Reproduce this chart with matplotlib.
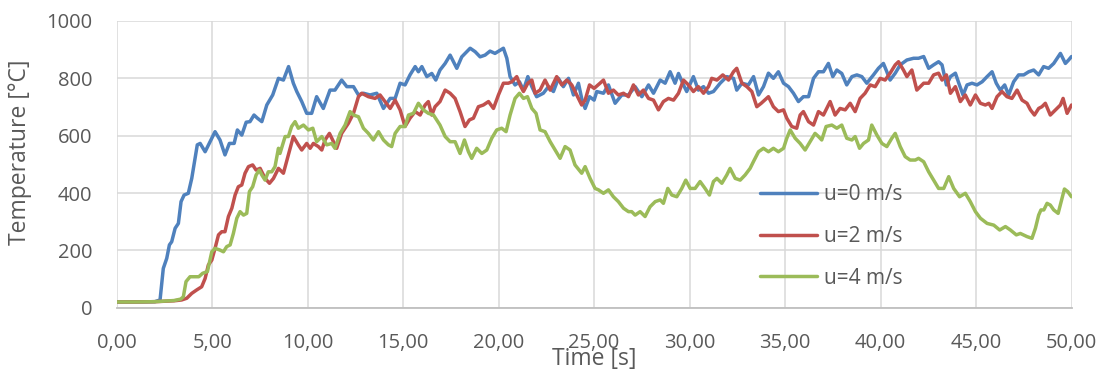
import matplotlib
matplotlib.use("Agg")
import matplotlib.pyplot as plt
from matplotlib.ticker import FixedLocator, FuncFormatter

# Temperature records for three wind speeds: time [s] and temperature [°C]
t_u0 = [0.0, 1.0, 2.0, 2.27, 2.44, 2.62, 2.76, 2.88, 3.06, 3.23, 3.37, 3.53, 3.75, 3.93,
        4.10, 4.22, 4.37, 4.63, 4.89, 5.15, 5.41, 5.67, 5.90, 6.15, 6.32, 6.55, 6.78,
        6.98, 7.19, 7.37, 7.60, 7.86, 8.17, 8.47, 8.73, 9.00, 9.25, 9.43, 9.69, 9.95,
        10.21, 10.47, 10.82, 11.17, 11.43, 11.78, 12.05, 12.40, 12.66, 12.92, 13.27,
        13.62, 13.97, 14.32, 14.58, 14.84, 15.10, 15.36, 15.63, 15.80, 15.98, 16.24,
        16.50, 16.71, 16.93, 17.20, 17.46, 17.81, 18.07, 18.51, 18.77, 19.03, 19.29,
        19.55, 19.81, 20.25, 20.43, 20.60, 20.86, 21.09, 21.30, 21.53, 21.74, 21.99,
        22.34, 22.61, 22.87, 23.13, 23.39, 23.66, 23.92, 24.18, 24.35, 24.53, 24.76,
        25.00, 25.14, 25.49, 25.75, 26.10, 26.45, 26.80, 27.15, 27.50, 27.85, 28.11,
        28.46, 28.72, 28.98, 29.24, 29.42, 29.68, 29.85, 30.20, 30.46, 30.73, 30.99,
        31.25, 31.60, 31.95, 32.30, 32.47, 32.74, 33.08, 33.35, 33.61, 33.87, 34.13,
        34.39, 34.65, 34.92, 35.18, 35.44, 35.70, 35.96, 36.23, 36.49, 36.75, 37.01,
        37.27, 37.50, 37.71, 37.97, 38.23, 38.50, 38.76, 39.02, 39.28, 39.63, 39.89,
        40.15, 40.33, 40.50, 40.77, 41.03, 41.38, 41.73, 41.99, 42.26, 42.52, 42.78,
        43.04, 43.22, 43.45, 43.66, 43.92, 44.10, 44.32, 44.53, 44.79, 45.05, 45.32,
        45.58, 45.84, 46.06, 46.27, 46.50, 46.71, 46.97, 47.23, 47.50, 47.76, 48.02,
        48.28, 48.54, 48.80, 49.07, 49.42, 49.68, 49.85, 50.0]
T_u0 = [20, 20, 21, 27, 137, 172, 219, 230, 277, 294, 370, 393, 399, 451,
        521, 568, 573, 544, 579, 614, 585, 533, 573, 573, 620, 602, 647,
        649, 672, 661, 649, 707, 742, 800, 794, 841, 783, 754, 719, 678,
        678, 736, 695, 759, 759, 794, 771, 771, 742, 748, 742,
        748, 695, 730, 730, 783, 777, 812, 841, 823, 841, 806,
        817, 794, 829, 852, 881, 835, 875, 905, 893, 875, 881,
        895, 887, 905, 870, 806, 777, 788, 759, 806, 771, 736,
        748, 771, 754, 800, 771, 800, 742, 783, 730, 695, 736,
        724, 754, 748, 777, 713, 742, 742, 771, 736, 777, 748,
        794, 783, 823, 783, 817, 777, 754, 806, 759, 771, 748,
        754, 783, 806, 800, 759, 783, 777, 806, 742, 771, 818,
        800, 823, 783, 771, 748, 719, 736, 736, 800, 823, 823,
        852, 806, 829, 817, 777, 806, 812, 806, 783, 812, 835,
        852, 823, 794, 818, 847, 864, 870, 870, 876, 835, 847,
        858, 847, 777, 806, 818, 783, 742, 777, 783, 777, 788,
        806, 823, 783, 759, 777, 742, 788, 812, 812, 823, 829,
        812, 841, 835, 852, 887, 852, 864, 876]

t_u2 = [0.0, 1.0, 2.0, 3.0, 3.4, 3.67, 3.93, 4.19, 4.45, 4.63, 4.80, 4.98, 5.15, 5.33,
        5.50, 5.67, 5.85, 6.03, 6.20, 6.37, 6.55, 6.72, 6.90, 7.12, 7.30, 7.51, 7.77,
        8.00, 8.21, 8.47, 8.73, 8.99, 9.25, 9.51, 9.69, 9.95, 10.13, 10.30, 10.56,
        10.74, 10.91, 11.14, 11.35, 11.52, 11.78, 12.13, 12.40, 12.66, 12.83, 13.18,
        13.53, 13.79, 14.05, 14.32, 14.58, 14.84, 15.10, 15.36, 15.63, 15.89, 16.15,
        16.32, 16.50, 16.67, 16.93, 17.20, 17.46, 17.72, 17.98, 18.24, 18.47, 18.68,
        18.94, 19.20, 19.47, 19.73, 19.99, 20.25, 20.51, 20.69, 20.95, 21.12, 21.30,
        21.53, 21.74, 21.91, 22.17, 22.43, 22.70, 23.04, 23.31, 23.57, 23.83, 24.09,
        24.35, 24.53, 24.76, 25.00, 25.31, 25.49, 25.75, 26.01, 26.27, 26.54, 26.80,
        27.06, 27.32, 27.58, 27.85, 28.11, 28.37, 28.63, 28.89, 29.16, 29.42, 29.68,
        29.94, 30.20, 30.46, 30.73, 30.99, 31.16, 31.43, 31.74, 32.04, 32.30, 32.47,
        32.74, 33.00, 33.26, 33.52, 33.75, 34.13, 34.39, 34.65, 34.92, 35.09, 35.35,
        35.61, 35.79, 35.96, 36.23, 36.49, 36.75, 37.01, 37.36, 37.62, 37.88, 38.15,
        38.41, 38.67, 38.93, 39.19, 39.46, 39.72, 39.98, 40.24, 40.50, 40.77, 40.94,
        41.20, 41.38, 41.64, 41.90, 42.26, 42.52, 42.78, 43.04, 43.22, 43.45, 43.66,
        43.92, 44.18, 44.44, 44.70, 44.97, 45.23, 45.49, 45.67, 45.84, 46.10, 46.36,
        46.62, 46.88, 47.15, 47.41, 47.67, 47.85, 48.06, 48.28, 48.45, 48.63, 48.89,
        49.16, 49.42, 49.56, 49.77, 50.0]
T_u2 = [20, 20, 21, 24, 27, 33, 50, 62, 73, 102, 149, 166, 207, 254,
        265, 265, 318, 347, 393, 422, 428, 469, 492, 498, 480, 486, 451,
        434, 451, 486, 469, 533, 597, 568, 550, 573, 556, 573, 562,
        550, 585, 608, 579, 556, 608, 643, 678, 736, 748, 736,
        730, 742, 719, 695, 724, 690, 632, 661, 684, 672, 707,
        719, 672, 701, 719, 759, 748, 730, 684, 632, 655, 661,
        701, 707, 719, 695, 742, 783, 783, 788, 806, 777, 754,
        783, 794, 748, 759, 794, 759, 806, 777, 794, 777, 742,
        707, 724, 777, 765, 783, 794, 748, 759, 742, 748, 736,
        777, 742, 759, 730, 724, 690, 719, 730, 724, 748, 794,
        777, 754, 771, 748, 771, 800, 794, 812, 794, 823, 835,
        783, 771, 754, 701, 713, 736, 701, 684, 690, 661, 632,
        626, 672, 684, 649, 637, 684, 672, 719, 672, 695, 690,
        713, 684, 730, 748, 777, 771, 800, 794, 818, 847, 858,
        829, 806, 829, 759, 783, 783, 812, 818, 794, 812, 748,
        771, 719, 742, 707, 742, 713, 707, 713, 695, 736, 754,
        736, 730, 759, 724, 713, 690, 672, 695, 701, 713, 672,
        690, 707, 730, 678, 707]

t_u4 = [0.0, 1.0, 2.0, 3.0, 3.35, 3.49, 3.63, 3.84, 4.10, 4.30, 4.50, 4.75, 4.98, 5.15,
        5.41, 5.59, 5.76, 5.94, 6.11, 6.29, 6.46, 6.64, 6.81, 6.95, 7.12, 7.30, 7.47,
        7.60, 7.77, 7.94, 8.12, 8.29, 8.47, 8.55, 8.82, 8.99, 9.16, 9.34, 9.51, 9.78,
        10.04, 10.27, 10.47, 10.74, 11.00, 11.26, 11.43, 11.70, 11.96, 12.22, 12.40,
        12.66, 12.92, 13.18, 13.44, 13.71, 13.97, 14.23, 14.40, 14.58, 14.84, 15.10,
        15.28, 15.54, 15.80, 16.06, 16.32, 16.59, 16.93, 17.20, 17.46, 17.72, 17.98,
        18.21, 18.42, 18.59, 18.85, 19.12, 19.38, 19.64, 19.90, 20.16, 20.39, 20.60,
        20.86, 21.09, 21.30, 21.51, 21.74, 21.96, 22.17, 22.43, 22.70, 22.96, 23.22,
        23.48, 23.74, 24.00, 24.35, 24.53, 24.79, 25.05, 25.23, 25.49, 25.75, 26.01,
        26.27, 26.54, 26.80, 26.97, 27.15, 27.41, 27.67, 27.93, 28.20, 28.46, 28.63,
        28.86, 29.07, 29.33, 29.59, 29.80, 30.03, 30.29, 30.55, 30.81, 31.04, 31.25,
        31.43, 31.69, 31.95, 32.12, 32.39, 32.65, 32.91, 33.17, 33.34, 33.61, 33.87,
        34.13, 34.39, 34.65, 34.92, 35.09, 35.27, 35.53, 35.79, 36.05, 36.31, 36.57,
        36.75, 36.92, 37.15, 37.45, 37.71, 37.97, 38.23, 38.50, 38.67, 38.90, 39.11,
        39.37, 39.54, 39.81, 40.07, 40.33, 40.59, 40.77, 41.03, 41.29, 41.55, 41.82,
        41.99, 42.26, 42.52, 42.78, 43.04, 43.31, 43.57, 43.83, 44.14, 44.44, 44.70,
        44.97, 45.23, 45.58, 45.93, 46.24, 46.54, 46.80, 47.11, 47.32, 47.67, 47.93,
        48.11, 48.28, 48.40, 48.55, 48.72, 48.89, 49.07, 49.30, 49.46, 49.63, 49.80,
        50.0]
T_u4 = [20, 20, 21, 25, 30, 38, 91, 108, 108, 108, 120, 126, 195, 207,
        201, 195, 213, 219, 259, 312, 335, 323, 329, 405, 422, 463, 480,
        463, 445, 474, 474, 492, 556, 538, 597, 597, 632, 649, 626, 637,
        620, 626, 579, 597, 568, 573, 556, 608, 637, 684, 672,
        666, 626, 608, 585, 614, 585, 568, 562, 608, 632, 632,
        672, 678, 713, 690, 678, 672, 637, 597, 579, 579, 538,
        585, 544, 521, 556, 538, 550, 591, 620, 626, 614, 672,
        730, 748, 730, 736, 695, 678, 620, 614, 579, 550, 521,
        562, 550, 498, 469, 492, 451, 416, 411, 399, 411, 387,
        370, 347, 335, 335, 323, 335, 318, 352, 370, 376, 364,
        416, 393, 387, 416, 445, 416, 416, 440, 416, 393, 440,
        451, 434, 463, 486, 451, 445, 463, 486, 509, 544, 556,
        544, 556, 544, 556, 591, 620, 591, 573, 550, 579, 608,
        597, 585, 632, 637, 626, 637, 591, 585, 597, 556, 573,
        585, 637, 602, 573, 562, 591, 608, 562, 527, 515, 515,
        521, 509, 474, 445, 416, 416, 457, 416, 387, 399, 370,
        335, 312, 294, 288, 271, 283, 271, 254, 259, 248, 242,
        277, 323, 341, 341, 364, 358, 341, 329, 370, 414, 405,
        387]

x_ticks = [0, 5, 10, 15, 20, 25, 30, 35, 40, 45, 50]
y_ticks = [0, 200, 400, 600, 800, 1000]
series_labels = ["u=0 m/s", "u=2 m/s", "u=4 m/s"]
series_colors = ["#4F81BD", "#C0504D", "#9BBB59"]

plt.rcParams["font.family"] = ["Open Sans", "DejaVu Sans"]
text_color = "#595959"
grid_color = "#D9D9D9"

fig = plt.figure(figsize=(11.07, 3.70), dpi=100)
W, H = 1107, 370
x0, x1 = 116.7, 1071.5
y_top, y_bot = 21.0, 307.7
ax = fig.add_axes([x0 / W, 1 - y_bot / H, (x1 - x0) / W, (y_bot - y_top) / H])

for t, T, lab, col in zip([t_u0, t_u2, t_u4], [T_u0, T_u2, T_u4], series_labels, series_colors):
    ax.plot(t, T, color=col, lw=2.5, label=lab, solid_joinstyle="round",
            solid_capstyle="round", zorder=3)

ax.set_xlim(0, 50)
ax.set_ylim(0, 1000)
ax.xaxis.set_major_locator(FixedLocator(x_ticks))
ax.yaxis.set_major_locator(FixedLocator(y_ticks))
ax.xaxis.set_major_formatter(FuncFormatter(lambda v, p: f"{v:.2f}".replace(".", ",")))
ax.yaxis.set_major_formatter(FuncFormatter(lambda v, p: f"{v:.0f}"))
ax.grid(True, color=grid_color, lw=1.1, zorder=0)
ax.set_axisbelow(True)
for side in ["top", "right", "left"]:
    ax.spines[side].set_visible(False)
ax.spines["bottom"].set_color("#BFBFBF")
ax.spines["bottom"].set_linewidth(1.3)
ax.spines["bottom"].set_zorder(4)
ax.tick_params(axis="both", length=0, labelsize=14.5, labelcolor=text_color)
ax.tick_params(axis="y", pad=17.5)
ax.tick_params(axis="x", pad=18.5)

leg = ax.legend(loc="upper left", bbox_to_anchor=((760 - x0) / (x1 - x0), (y_bot - 184) / (y_bot - y_top)),
                frameon=False, fontsize=15, handlelength=2.75, handletextpad=0.3,
                labelspacing=1.0, borderpad=0, borderaxespad=0)
for txt in leg.get_texts():
    txt.set_color(text_color)

fig.text((x0 + x1) / 2 / W, 1 - 365 / H, "Time [s]", ha="center", va="baseline",
         fontsize=16.5, color=text_color)
fig.text(20 / W, 1 - 152.5 / H, "Temperature [°C]", ha="center", va="center",
         rotation=90, fontsize=16.5, color=text_color)

fig.savefig("out.png", dpi=100)
